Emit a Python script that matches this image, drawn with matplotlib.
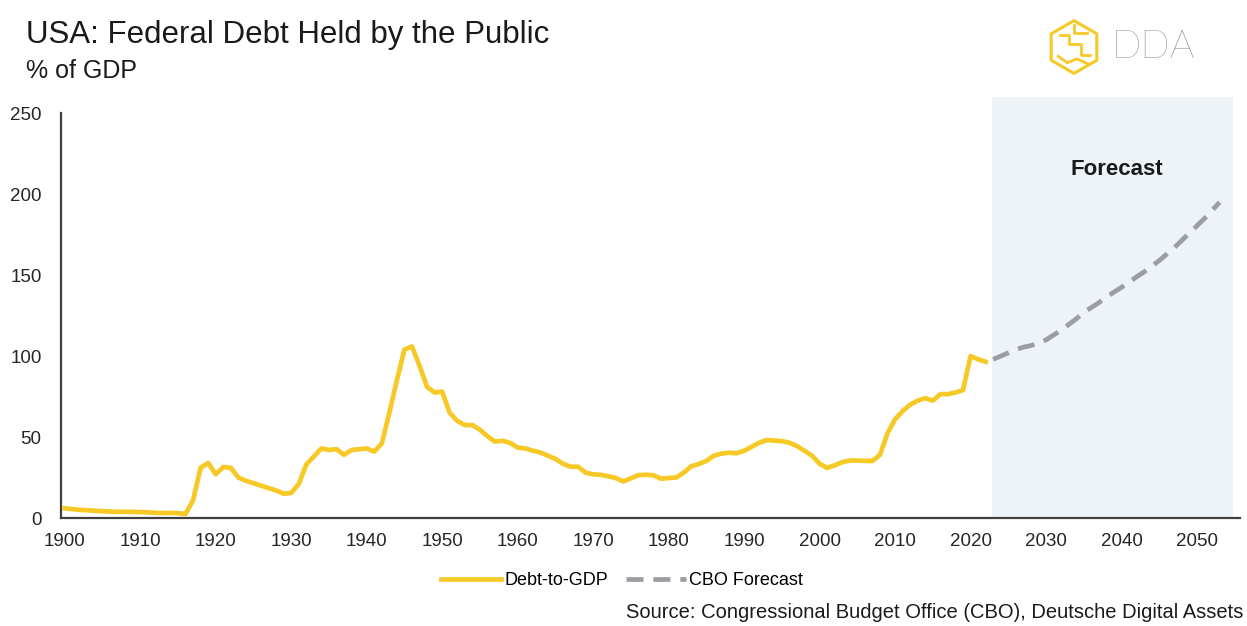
import numpy as np
import matplotlib
matplotlib.use("Agg")
import matplotlib.pyplot as plt
from matplotlib.patches import RegularPolygon

plt.rcParams['font.family'] = ['Liberation Sans', 'DejaVu Sans']

# historical debt-to-GDP (%), 1900-2022
years = list(range(1900, 2023))
debt = [6.0, 5.5, 5.0, 4.8, 4.5, 4.2, 4.0, 3.8, 3.8, 3.8,
        3.6, 3.5, 3.2, 3.1, 3.2, 3.0, 2.5, 11.0, 31.0, 34.0,
        27.0, 31.5, 31.0, 25.0, 23.0, 21.5, 20.0, 18.5, 17.0, 15.0,
        15.5, 21.0, 33.0, 38.0, 43.0, 42.0, 42.5, 39.0, 42.0, 42.5,
        43.0, 41.0, 46.0, 65.0, 85.0, 104.0, 106.0, 94.0, 81.0, 77.5,
        78.0, 65.0, 60.0, 57.4, 57.4, 54.5, 50.5, 47.2, 47.7, 46.4,
        43.5, 43.0, 41.6, 40.5, 38.5, 36.5, 33.5, 31.7, 31.7, 28.0,
        27.0, 26.7, 25.8, 24.7, 22.6, 24.5, 26.5, 26.7, 26.4, 24.3,
        24.7, 25.0, 28.0, 32.0, 33.3, 35.3, 38.5, 39.8, 40.3, 40.0,
        41.5, 44.0, 46.5, 48.1, 47.8, 47.5, 46.5, 44.5, 41.5, 38.5,
        33.5, 31.0, 32.5, 34.5, 35.5, 35.5, 35.3, 35.2, 39.0, 52.4,
        61.0, 66.0, 70.0, 72.5, 74.0, 72.5, 76.5, 76.5, 77.5, 79.0,
        100.0, 98.0, 96.5]

# CBO forecast (%), 2023-2053
fc_years = list(range(2023, 2054))
fc_debt = [98.0, 100.0, 102.0, 104.0, 105.5, 106.5, 108.0, 110.0, 113.0,
           116.0, 119.5, 123.0, 127.0, 130.0, 133.0, 136.5, 139.5, 142.5, 145.5,
           149.0, 152.0, 155.5, 159.0, 163.0, 167.0, 171.5, 176.0, 180.5, 185.0,
           190.0, 195.0]

yellow = '#F6C927'
grey = '#9A9DA1'

fig = plt.figure(figsize=(12.47, 6.26), dpi=100)
ax = fig.add_axes([0.0489, 0.1725, 0.9455, 0.6725])

ax.axvspan(2022.8, 2054.8, color='#EEF3F7', zorder=0, lw=0)
ax.plot(years, debt, color=yellow, lw=3.4, solid_joinstyle='round', label='Debt-to-GDP', zorder=3)
ax.plot(fc_years, fc_debt, color=grey, lw=3.4, dashes=(3.6, 2.1), label='CBO Forecast', zorder=3)

ax.set_xlim(1899.5, 2055.7)
ax.set_ylim(0, 260)
ax.set_xticks(range(1900, 2051, 10))
ax.set_yticks(range(0, 251, 50))
ax.tick_params(length=0, labelsize=13.5, colors='#262626')
ax.tick_params(axis='y', pad=14)
ax.tick_params(axis='x', pad=11)
for s in ['top', 'right']:
    ax.spines[s].set_visible(False)
ax.spines['left'].set_bounds(0, 250)
for s in ['left', 'bottom']:
    ax.spines[s].set_color('#404040')
    ax.spines[s].set_linewidth(1.6)

ax.text(2039.4, 215, 'Forecast', ha='center', va='center', fontsize=16, fontweight='bold', color='#1a1a1a')

fig.text(0.021, 0.932, 'USA: Federal Debt Held by the Public', fontsize=22.5, color='#1a1a1a', va='baseline')
fig.text(0.021, 0.876, '% of GDP', fontsize=18, color='#1a1a1a', va='baseline')

# legend below axis
fig.legend(loc='center left', bbox_to_anchor=(0.348, 0.072), ncol=2, frameon=False,
           fontsize=13, handlelength=3.3, handletextpad=0.2, columnspacing=1.0, borderaxespad=0)
fig.text(0.997, 0.022, 'Source: Congressional Budget Office (CBO), Deutsche Digital Assets',
         ha='right', va='center', fontsize=14.5, color='#1a1a1a')

# DDA logo
lax = fig.add_axes([1045 / 1247, 1 - 76 / 626, 58 / 1247, 58 / 626])
lax.set_xlim(-1.1, 1.1)
lax.set_ylim(-1.1, 1.1)
lax.set_aspect('equal')
lax.axis('off')
lax.add_patch(RegularPolygon((0, 0), numVertices=6, radius=1.0, fill=False, ec=yellow, lw=2.2))
lax.plot([-0.55, -0.2, -0.2, 0.25, 0.25, 0.6], [0.45, 0.45, 0.1, 0.1, -0.3, -0.3], color=yellow, lw=2.0)
lax.plot([-0.6, -0.25, 0.1, 0.55], [-0.35, -0.6, -0.45, -0.65], color=yellow, lw=2.0)
lax.plot([0.0, 0.0, 0.5], [0.85, 0.55, 0.55], color=yellow, lw=2.0)
fig.text(1112 / 1247, 1 - 47 / 626, 'DDA', fontsize=28, color='#6d6d6d', va='center', ha='left',
         family=['Lato', 'DejaVu Sans'], fontweight='light')

fig.savefig('out.png', dpi=100)
